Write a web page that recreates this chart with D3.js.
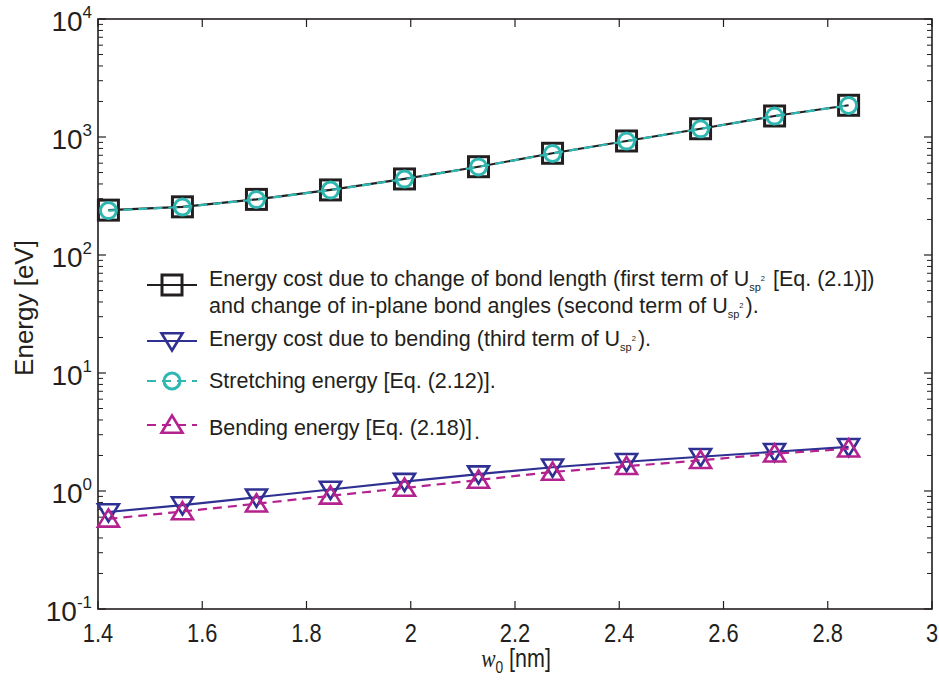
<!DOCTYPE html>
<html lang="en">
<head>
<meta charset="UTF-8">
<title>Energy vs w0</title>
<style>
  body { margin: 0; background: #fff; }
  svg { display: block; }
  text { font-family: "Liberation Sans", Arial, Helvetica, sans-serif; fill: #231f20; }
</style>
<script src="https://d3js.org/d3.v7.min.js"></script>
</head>
<body>
<svg id="chart" width="939" height="680"></svg>
<script>
// w0 in nm
const w0 = [1.42, 1.562, 1.704, 1.846, 1.988, 2.13, 2.272, 2.414, 2.556, 2.698, 2.84];
// energies in eV
const costStretch = [240, 256, 296, 356, 441, 560, 728, 925, 1175, 1507, 1857];
const costBend = [0.664, 0.76, 0.885, 1.03, 1.20, 1.39, 1.59, 1.77, 1.95, 2.15, 2.37];
const stretchEnergy = [238, 255, 295, 355, 440, 558, 726, 923, 1172, 1503, 1852];
const bendEnergy = [0.58, 0.67, 0.78, 0.91, 1.06, 1.24, 1.45, 1.62, 1.82, 2.07, 2.28];
const xTicks = [1.4, 1.6, 1.8, 2, 2.2, 2.4, 2.6, 2.8, 3];
const yExps = [-1, 0, 1, 2, 3, 4];

const svg = d3.select("#chart");
const L = 98, R = 932, T = 19, B = 609;
const axisCol = "#231f20";

const x = d3.scaleLinear().domain([1.4, 3]).range([L, R]);
const y = d3.scaleLog().domain([0.1, 10000]).range([B, T]);

// minor log ticks
const minor = [];
for (let e = -1; e < 4; e++) for (let k = 2; k <= 9; k++) minor.push(k * Math.pow(10, e));

const g = svg.append("g");
// y ticks left and right
[[L, 1], [R, -1]].forEach(([px, dir]) => {
  g.selectAll(null).data(minor).enter().append("line")
    .attr("x1", px).attr("x2", px + dir * 5)
    .attr("y1", d => y(d)).attr("y2", d => y(d))
    .attr("stroke", axisCol).attr("stroke-width", 1);
  g.selectAll(null).data(yExps).enter().append("line")
    .attr("x1", px).attr("x2", px + dir * 8)
    .attr("y1", d => y(Math.pow(10, d))).attr("y2", d => y(Math.pow(10, d)))
    .attr("stroke", axisCol).attr("stroke-width", 1.2);
});
// x ticks bottom and top
[[B, -1], [T, 1]].forEach(([py, dir]) => {
  g.selectAll(null).data(xTicks).enter().append("line")
    .attr("x1", d => x(d)).attr("x2", d => x(d))
    .attr("y1", py).attr("y2", py + dir * 8)
    .attr("stroke", axisCol).attr("stroke-width", 1.2);
});
g.append("rect").attr("x", L).attr("y", T).attr("width", R - L).attr("height", B - T)
  .attr("fill", "none").attr("stroke", axisCol).attr("stroke-width", 1.6);

// y tick labels
const yl = g.selectAll(null).data(yExps).enter().append("text")
  .attr("x", 92).attr("y", d => y(Math.pow(10, d)) + 12)
  .attr("text-anchor", "end").attr("font-size", 28);
yl.append("tspan").text("10");
yl.append("tspan").attr("font-size", 17).attr("dy", -13).text(d => d);

// x tick labels (condensed)
g.selectAll(null).data(xTicks).enter().append("text")
  .attr("transform", d => `translate(${x(d)},642) scale(0.84,1)`)
  .attr("text-anchor", "middle").attr("font-size", 26)
  .text(d => d);

// axis titles
const xt = g.append("text")
  .attr("transform", "translate(516,667) scale(0.86,1)")
  .attr("text-anchor", "middle").attr("font-size", 25);
xt.append("tspan").attr("font-family", "Liberation Serif, serif").attr("font-style", "italic").text("w");
xt.append("tspan").attr("font-size", 16).attr("dy", 6).text("0");
xt.append("tspan").attr("dy", -6).text(" [nm]");

g.append("text").attr("transform", "translate(33,308) rotate(-90)")
  .attr("text-anchor", "middle").attr("font-size", 26).text("Energy [eV]");

// series
const black = "#231f20", cyan = "#2fb8b2", blue = "#2e3192", magenta = "#b3228f";
const line = vals => d3.line().x((d, i) => x(w0[i])).y(d => y(d))(vals);
const tri = (s, up) => {
  const h = s * 0.82;
  return up ? `M0,${-h * 0.55}L${s / 2},${h * 0.45}L${-s / 2},${h * 0.45}Z`
            : `M0,${h * 0.55}L${s / 2},${-h * 0.45}L${-s / 2},${-h * 0.45}Z`;
};

function drawSeries(vals, col, dash, marker) {
  g.append("path").attr("d", line(vals)).attr("fill", "none")
    .attr("stroke", col).attr("stroke-width", 2.2).attr("stroke-dasharray", dash);
  const m = g.selectAll(null).data(vals).enter();
  drawMarker(m, col, marker, (d, i) => x(w0[i]), d => y(d));
}
function drawMarker(sel, col, marker, fx, fy) {
  if (marker === "square") {
    sel.append("rect").attr("x", (d, i) => fx(d, i) - 10).attr("y", (d, i) => fy(d, i) - 10)
      .attr("width", 20).attr("height", 20).attr("fill", "none").attr("stroke", col).attr("stroke-width", 3);
  } else if (marker === "circle") {
    sel.append("circle").attr("cx", fx).attr("cy", fy).attr("r", 8)
      .attr("fill", "none").attr("stroke", col).attr("stroke-width", 3);
  } else {
    sel.append("path").attr("d", tri(21, marker === "up"))
      .attr("transform", (d, i) => `translate(${fx(d, i)},${fy(d, i)})`)
      .attr("fill", "none").attr("stroke", col).attr("stroke-width", 2.6).attr("stroke-linejoin", "miter");
  }
}

drawSeries(costStretch, black, null, "square");
drawSeries(costBend, blue, null, "down");
drawSeries(stretchEnergy, cyan, "9,6", "circle");
drawSeries(bendEnergy, magenta, "9,6", "up");

// legend
const fs = 21.5;
const legend = [
  { col: black, dash: null, marker: "square", y: 285, lines: [
      ["Energy cost due to change of bond length (first term of U", true, " [Eq. (2.1)])"],
      ["and change of in-plane bond angles (second term of U", true, ")."]], ty: [286, 313] },
  { col: blue, dash: null, marker: "down", y: 341, lines: [["Energy cost due to bending (third term of U", true, ")."]], ty: [346] },
  { col: cyan, dash: "9,6", marker: "circle", y: 381, lines: [["Stretching energy [Eq. (2.12)].", false, ""]], ty: [388] },
  { col: magenta, dash: "9,6", marker: "up", y: 425, lines: [["Bending energy [Eq. (2.18)]", false, ""]], ty: [435], tail: "." }
];
legend.forEach(it => {
  g.append("line").attr("x1", 147).attr("x2", 197).attr("y1", it.y).attr("y2", it.y)
    .attr("stroke", it.col).attr("stroke-width", 2.2).attr("stroke-dasharray", it.dash);
  drawMarker(g.selectAll(null).data([0]).enter(), it.col, it.marker, () => 172, () => it.y);
  it.lines.forEach((ln, j) => {
    const t = g.append("text").attr("x", 209).attr("y", it.ty[j]).attr("font-size", fs);
    t.append("tspan").text(ln[0]);
    if (ln[1]) {
      t.append("tspan").attr("font-size", 11).attr("dy", 5).text("sp");
      t.append("tspan").attr("font-size", 7.5).attr("dy", -10).text("2");
      t.append("tspan").attr("dx", 2).attr("dy", 5).text(ln[2]);
    }
    if (it.tail) t.append("tspan").attr("dx", 2).attr("dy", 4).text(it.tail);
  });
});
</script>
</body>
</html>
